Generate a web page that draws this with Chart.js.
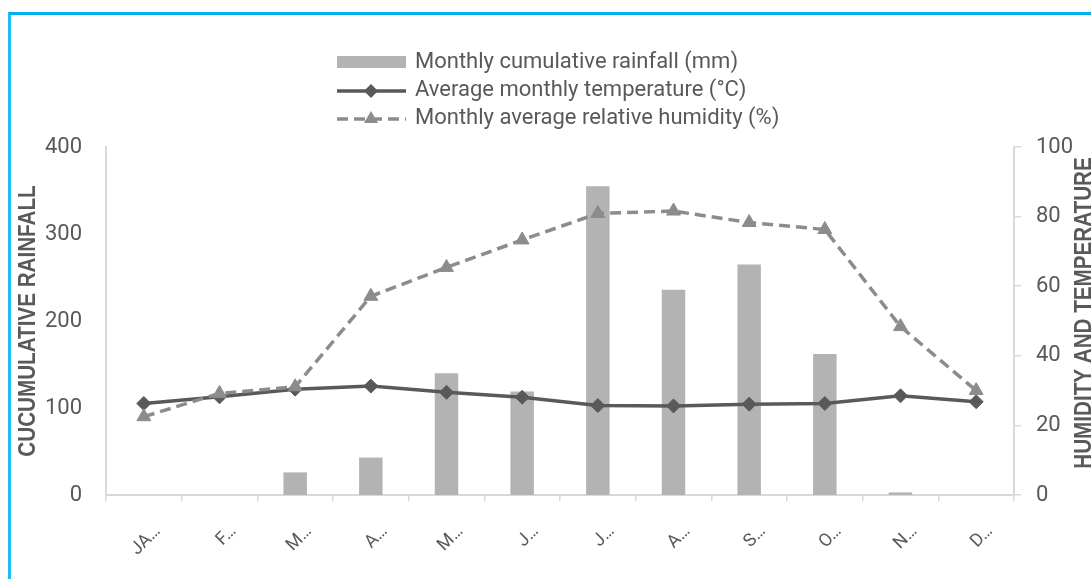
<!DOCTYPE html>
<html><head><meta charset="utf-8">
<script src="https://cdn.jsdelivr.net/npm/chart.js@4.4.1/dist/chart.umd.min.js"></script>
<style>
html,body{margin:0;padding:0;background:#fff;overflow:hidden;}
#wrap{position:absolute;left:0;top:0;width:1091px;height:579px;}
#frame{position:absolute;left:8px;top:12px;width:1200px;height:700px;border-left:3px solid #1cbcf4;border-top:3px solid #00b0f0;box-sizing:border-box;pointer-events:none}
</style></head><body>
<div id="wrap"><canvas id="c" width="1091" height="579"></canvas></div>
<div id="frame"></div>
<script>
const months = ["JA…","F…","M…","A…","M…","J…","J…","A…","S…","O…","N…","D…"];
const rainfall = [0,0,26,43,140,119,355,236,265,162,3,0];
const temperature = [26.3,28.2,30.4,31.3,29.5,28.1,25.7,25.6,26.1,26.3,28.5,26.8];
const humidity = [22.5,29.2,31.1,57.1,65.4,73.3,80.9,81.6,78.3,76.3,48.4,30.0];
const seriesNames = ["Monthly cumulative rainfall (mm)","Average monthly temperature (°C)","Monthly average relative humidity (%)"];
const leftTitle = "CUCUMULATIVE RAINFALL";
const rightTitle = "HUMIDITY AND TEMPERATURE";

const TXT = '#595959';
const FONT = 'Roboto, "Liberation Sans", sans-serif';
const BOLD = '"Liberation Sans", Arial, sans-serif';

function drawVTitle(ctx, text, cx, cy){
  ctx.save();
  ctx.translate(cx, cy); ctx.rotate(-Math.PI/2); ctx.scale(0.86, 1);
  ctx.textAlign = 'center'; ctx.textBaseline = 'middle';
  ctx.font = 'bold 24px ' + BOLD; ctx.fillStyle = TXT;
  ctx.fillText(text, 0, 1);
  ctx.restore();
}

const legendPlugin = {
  id:'customLegend',
  afterDraw(chart){
    const ctx = chart.ctx;
    const ds = chart.data.datasets;
    const x0 = 337, x1 = 406, tx = 415;
    const lineY = [62, 91, 119];
    const baseY = [67.7, 96, 124.3];
    ctx.save();
    ctx.fillStyle = ds[0].backgroundColor;
    ctx.fillRect(x0, 56, x1 - x0, 12);
    ctx.strokeStyle = ds[1].borderColor; ctx.lineWidth = 3.5; ctx.setLineDash([]);
    ctx.beginPath(); ctx.moveTo(x0, lineY[1]); ctx.lineTo(x1, lineY[1]); ctx.stroke();
    ctx.fillStyle = ds[1].backgroundColor;
    ctx.beginPath(); const cx = 371, r = 7;
    ctx.moveTo(cx, lineY[1]-r); ctx.lineTo(cx+r, lineY[1]); ctx.lineTo(cx, lineY[1]+r); ctx.lineTo(cx-r, lineY[1]); ctx.closePath(); ctx.fill();
    ctx.strokeStyle = ds[2].borderColor; ctx.setLineDash(ds[2].borderDash);
    ctx.beginPath(); ctx.moveTo(x0, lineY[2]); ctx.lineTo(x1, lineY[2]); ctx.stroke();
    ctx.setLineDash([]);
    ctx.fillStyle = ds[2].backgroundColor;
    ctx.beginPath(); const ty = lineY[2];
    ctx.moveTo(cx, ty-8); ctx.lineTo(cx+7, ty+4); ctx.lineTo(cx-7, ty+4); ctx.closePath(); ctx.fill();
    ctx.fillStyle = TXT; ctx.font = '22px ' + FONT; ctx.textBaseline = 'alphabetic'; ctx.textAlign = 'left';
    ds.forEach((d,i)=>ctx.fillText(d.label, tx, baseY[i]));
    ctx.restore();
    const a = chart.chartArea;
    drawVTitle(ctx, leftTitle, 27, (a.top + a.bottom)/2);
    drawVTitle(ctx, rightTitle, 1083.5, 313);
  }
};

new Chart(document.getElementById('c'), {
  type:'bar',
  data:{
    labels: months,
    datasets:[
      {type:'bar', label:seriesNames[0], data:rainfall, backgroundColor:'#b3b3b3', yAxisID:'y', order:3, barPercentage:0.31, categoryPercentage:1},
      {type:'line', label:seriesNames[1], data:temperature, borderColor:'#595959', backgroundColor:'#595959', borderWidth:3.5, pointStyle:'rectRot', pointRadius:7, pointHoverRadius:7, pointBorderWidth:1, yAxisID:'y1', order:2, tension:0},
      {type:'line', label:seriesNames[2], data:humidity, borderColor:'#8c8c8c', backgroundColor:'#8c8c8c', borderWidth:3.5, borderDash:[11,6], pointStyle:'triangle', pointRadius:8, pointHoverRadius:8, pointBorderWidth:1, yAxisID:'y1', order:1, tension:0}
    ]
  },
  options:{
    responsive:false, animation:false,
    layout:{padding:{top:147,left:0,right:0,bottom:0}},
    plugins:{legend:{display:false}, tooltip:{enabled:false}},
    scales:{
      x:{
        grid:{offset:true, drawOnChartArea:false, color:'#d9d9d9', tickLength:6, lineWidth:1.5},
        border:{color:'#d9d9d9', width:2},
        ticks:{color:TXT, font:{family:FONT, size:18}, minRotation:45, maxRotation:45, padding:20, labelOffset:14, autoSkip:false},
        afterFit(s){ s.height = 84; }
      },
      y:{
        position:'left', min:0, max:400,
        ticks:{stepSize:100, color:TXT, font:{family:FONT, size:22}, padding:16},
        grid:{display:false},
        border:{color:'#d9d9d9', width:2},
        afterFit(s){ s.width = 106; }
      },
      y1:{
        position:'right', min:0, max:100,
        ticks:{stepSize:20, color:TXT, font:{family:FONT, size:22}, padding:15},
        grid:{drawOnChartArea:false, color:'#d9d9d9', tickLength:7, lineWidth:1.5},
        border:{color:'#d9d9d9', width:2},
        afterFit(s){ s.width = 77; }
      }
    }
  },
  plugins:[legendPlugin]
});
</script>
</body></html>
